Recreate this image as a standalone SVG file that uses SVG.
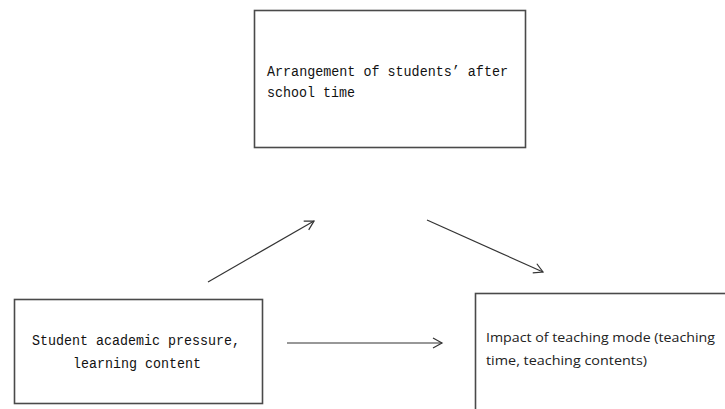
<svg xmlns="http://www.w3.org/2000/svg" width="725" height="409" viewBox="0 0 725 409">
<style>
.box{fill:#fff;stroke:#4a4a4a;stroke-width:1.6}
.mono{font-family:"Liberation Mono","DejaVu Sans Mono",monospace;font-size:14px;fill:#111}
.sans{font-family:"Open Sans","Liberation Sans",sans-serif;font-size:13.5px;fill:#222}
.edge{stroke:#333;stroke-width:1.2;fill:none;marker-end:url(#ah)}
</style>
<defs>
<marker id="ah" markerWidth="12" markerHeight="12" refX="10" refY="6" orient="auto" markerUnits="userSpaceOnUse">
<path d="M1,1 L10,6 L1,11" fill="none" stroke="#333" stroke-width="1.2"/>
</marker>
</defs>
<rect width="725" height="409" fill="#fff"/>
<g id="node-arrangement">
<rect class="box" x="254.5" y="10.5" width="271" height="137"/>
<text class="mono" x="267" y="76" textLength="241" lengthAdjust="spacingAndGlyphs">Arrangement of students’ after</text>
<text class="mono" x="267" y="97" textLength="88" lengthAdjust="spacingAndGlyphs">school time</text>
</g>
<g id="node-pressure">
<rect class="box" x="14.5" y="299.5" width="248" height="104"/>
<text class="mono" x="32" y="345" textLength="208" lengthAdjust="spacingAndGlyphs">Student academic pressure,</text>
<text class="mono" x="73" y="368" textLength="128" lengthAdjust="spacingAndGlyphs">learning content</text>
</g>
<g id="node-impact">
<rect class="box" x="475.5" y="293.5" width="260" height="130"/>
<text class="sans" x="486" y="342" textLength="229" lengthAdjust="spacingAndGlyphs">Impact of teaching mode (teaching</text>
<text class="sans" x="486" y="365" textLength="161" lengthAdjust="spacingAndGlyphs">time, teaching contents)</text>
</g>
<g id="connectors">
<line class="edge" x1="208" y1="282" x2="314" y2="221"/>
<line class="edge" x1="427" y1="220" x2="543" y2="272"/>
<line class="edge" x1="287" y1="343" x2="442" y2="343"/>
</g>
</svg>
